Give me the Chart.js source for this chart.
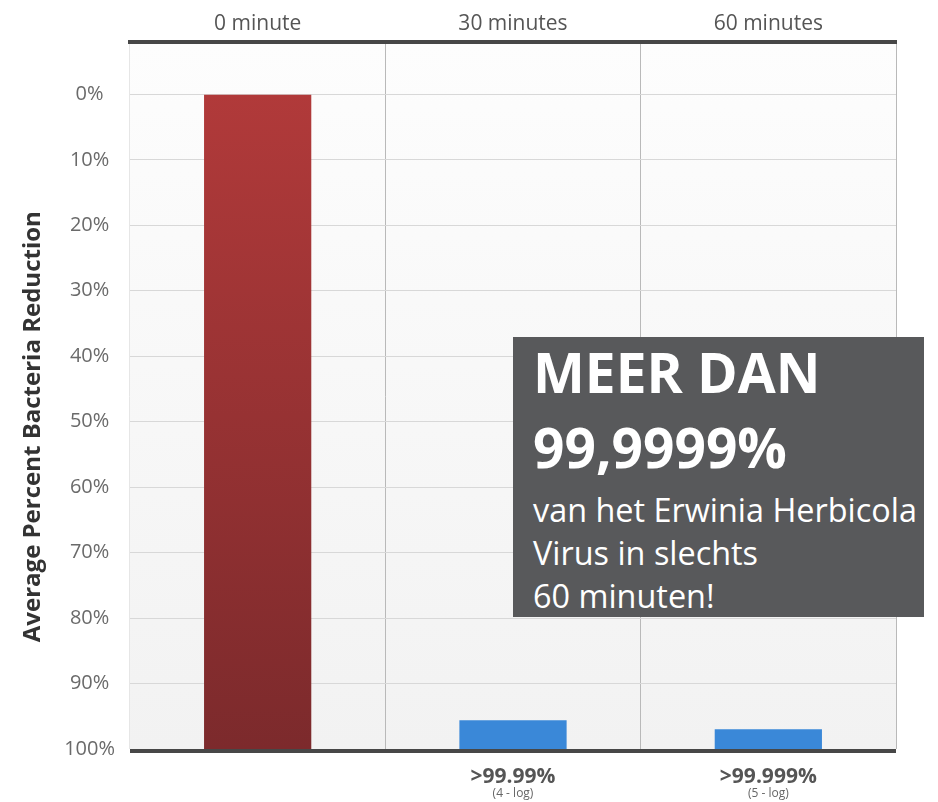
<!DOCTYPE html>
<html>
<head>
<meta charset="utf-8">
<script src="https://cdn.jsdelivr.net/npm/chart.js@4.4.1/dist/chart.umd.min.js"></script>
<style>
  body { margin: 0; background: #fff; }
  #wrap { position: relative; width: 938px; height: 802px; }
  #note {
    position: absolute; left: 513px; top: 337px; width: 411px; height: 280px;
    background: #58595b; color: #fff; font-family: "Open Sans", sans-serif;
    padding-left: 20px; box-sizing: border-box; overflow: hidden;
  }
  #note .big { font-weight: 700; font-size: 55px; line-height: 75px; white-space: nowrap; }
  #note .small { font-size: 32.4px; line-height: 43px; white-space: nowrap; }
</style>
</head>
<body>
<div id="wrap">
  <canvas id="main-chart" width="938" height="802"></canvas>
  <div id="note">
    <div class="big" style="margin-top:-3px">MEER DAN</div>
    <div class="big">99,9999%</div>
    <div class="small" style="margin-top:4px">van het Erwinia Herbicola</div>
    <div class="small">Virus in slechts</div>
    <div class="small">60 minuten!</div>
  </div>
</div>
<script>
// values
const categories = ["0 minute", "30 minutes", "60 minutes"];
const barTops = [0, 95.6, 97.0];          // bars grow up from 100%
const yTicks = [0, 10, 20, 30, 40, 50, 60, 70, 80, 90, 100];
const bottomLabels = ["", ">99.99%", ">99.999%"];
const bottomNotes = ["", "(4 - log)", "(5 - log)"];

const FONT = "'Open Sans', sans-serif";

// light plot background + heavy bottom rule + labels under the bars
const plotDecor = {
  id: "plotDecor",
  beforeDraw(chart) {
    const { ctx, chartArea: a } = chart;
    const g = ctx.createLinearGradient(0, a.top, 0, a.bottom);
    g.addColorStop(0, "#fdfdfd");
    g.addColorStop(1, "#f2f2f2");
    ctx.save();
    ctx.fillStyle = g;
    ctx.fillRect(a.left, a.top, a.right - a.left, a.bottom - a.top);
    ctx.restore();
  },
  afterDatasetsDraw(chart) {
    const { ctx, chartArea: a } = chart;
    ctx.save();
    ctx.fillStyle = "#474747";
    ctx.fillRect(a.left, a.bottom, a.right - a.left, 4);
    ctx.restore();
  },
  afterDraw(chart) {
    const { ctx, chartArea: a } = chart;
    const xs = chart.scales.x;
    ctx.save();
    ctx.textAlign = "center";
    ctx.textBaseline = "alphabetic";
    categories.forEach((c, i) => {
      const x = xs.getPixelForValue(i);
      ctx.fillStyle = "#555";
      ctx.font = "bold 21px " + FONT;
      ctx.fillText(bottomLabels[i], x, a.bottom + 34);
      ctx.fillStyle = "#666";
      ctx.font = "12px " + FONT;
      ctx.fillText(bottomNotes[i], x, a.bottom + 48);
    });
    ctx.restore();
  }
};

const barColor = ctx => {
  if (ctx.dataIndex !== 0) return "#3a88d8";
  const a = ctx.chart.chartArea;
  if (!a) return "#a03535";
  const g = ctx.chart.ctx.createLinearGradient(0, a.top, 0, a.bottom);
  g.addColorStop(0, "#b53b3b");
  g.addColorStop(1, "#7c2a2c");
  return g;
};

const config = {
  type: "bar",
  data: {
    labels: categories,
    datasets: [{
      label: "Reduction",
      data: barTops.map(v => [100, v]),
      backgroundColor: barColor,
      borderWidth: 0,
      barPercentage: 0.42,
      categoryPercentage: 1
    }]
  },
  options: {
    responsive: false,
    animation: false,
    devicePixelRatio: 1,
    layout: { padding: { right: 42, bottom: 53 } },
    plugins: { legend: { display: false }, tooltip: { enabled: false } },
    scales: {
      x: {
        position: "top",
        grid: {
          offset: true,
          drawTicks: false,
          color: c => (c.index === 0 || c.index === categories.length) ? "#e6e6e6" : "#b9b9b9"
        },
        border: { color: "#474747", width: 4 },
        ticks: { color: "#555", font: { family: FONT, size: 21 }, padding: 5 },
        afterFit: s => { s.height = 42; }
      },
      y: {
        reverse: true,
        min: -8,
        max: 100,
        afterBuildTicks: s => { s.ticks = yTicks.map(v => ({ value: v })); },
        grid: { color: "#d8d8d8", drawTicks: false },
        border: { display: false },
        ticks: {
          color: "#6a6a6a",
          font: { family: FONT, size: 20 },
          padding: 15,
          crossAlign: "center",
          callback: v => v + "%"
        },
        title: {
          display: true,
          // trailing spaces push the title a little lower, as in the original
          text: "Average Percent Bacteria Reduction          ",
          color: "#333",
          font: { family: FONT, size: 24, weight: "bold" },
          padding: { top: 19, bottom: 0 }
        },
        afterFit: s => { s.width = 130; }
      }
    }
  },
  plugins: [plotDecor]
};

const myChart = new Chart(document.getElementById("main-chart"), config);
</script>
</body>
</html>
